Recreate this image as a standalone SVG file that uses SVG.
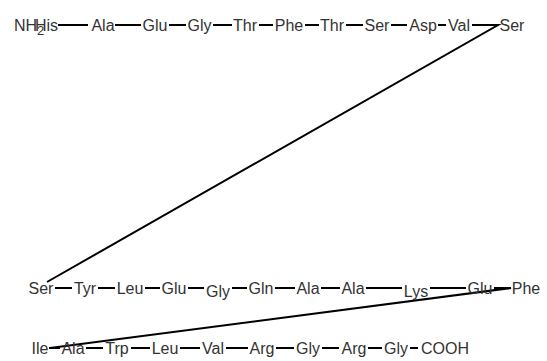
<svg xmlns="http://www.w3.org/2000/svg" width="547" height="361" viewBox="0 0 547 361">
<style>
text{font-family:"Liberation Sans",Arial,sans-serif;font-size:16px;fill:#333;text-anchor:middle}
text.s{text-anchor:start}
.b{stroke:#000;stroke-width:2;fill:none}
</style>
<rect width="547" height="361" fill="#fff"/>
<g id="connectors">
<path class="b" d="M58 25H88M115 25H141M169 25H186M213 25H232M259 25H273M305 25H319M346 25H363M391 25H407M438 25H446M472 25H498L47 282"/>
<path class="b" d="M55 288H72M98 288H115M145 288H160M188 288H204M232 288H247M275 288H295M321 288H340M366 288H402M430 288H466M494 288H511L50 348"/>
<path class="b" d="M49 348H60M86 348H103M131 348H150M180 348H200M226 348H248M276 348H294M322 348H339M368 348H382M410 348H418"/>
</g>
<g id="n1"><text class="s" x="14" y="31">NH<tspan dy="4" font-size="13">2</tspan></text></g>
<g id="n2"><text class="s" x="35" y="31">His</text></g>
<g id="n3"><text x="103" y="31">Ala</text></g>
<g id="n4"><text x="155" y="31">Glu</text></g>
<g id="n5"><text x="199.5" y="31">Gly</text></g>
<g id="n6"><text x="245" y="31">Thr</text></g>
<g id="n7"><text x="289" y="31">Phe</text></g>
<g id="n8"><text x="332" y="31">Thr</text></g>
<g id="n9"><text x="377" y="31">Ser</text></g>
<g id="n10"><text x="423" y="31">Asp</text></g>
<g id="n11"><text x="459" y="31">Val</text></g>
<g id="n12"><text x="512" y="31">Ser</text></g>
<g id="n13"><text x="41" y="294">Ser</text></g>
<g id="n14"><text x="85" y="294">Tyr</text></g>
<g id="n15"><text x="130" y="294">Leu</text></g>
<g id="n16"><text x="174" y="294">Glu</text></g>
<g id="n17"><text x="218" y="297">Gly</text></g>
<g id="n18"><text x="261" y="294">Gln</text></g>
<g id="n19"><text x="308" y="294">Ala</text></g>
<g id="n20"><text x="353" y="294">Ala</text></g>
<g id="n21"><text x="416" y="297">Lys</text></g>
<g id="n22"><text x="480" y="294">Glu</text></g>
<g id="n23"><text x="526" y="294">Phe</text></g>
<g id="n24"><text x="40" y="353.5">Ile</text></g>
<g id="n25"><text x="73" y="353.5">Ala</text></g>
<g id="n26"><text x="117" y="353.5">Trp</text></g>
<g id="n27"><text x="165" y="353.5">Leu</text></g>
<g id="n28"><text x="213" y="353.5">Val</text></g>
<g id="n29"><text x="262" y="353.5">Arg</text></g>
<g id="n30"><text x="308" y="353.5">Gly</text></g>
<g id="n31"><text x="354" y="353.5">Arg</text></g>
<g id="n32"><text x="396" y="353.5">Gly</text></g>
<g id="n33"><text class="s" x="421" y="353.5">COOH</text></g>
</svg>
